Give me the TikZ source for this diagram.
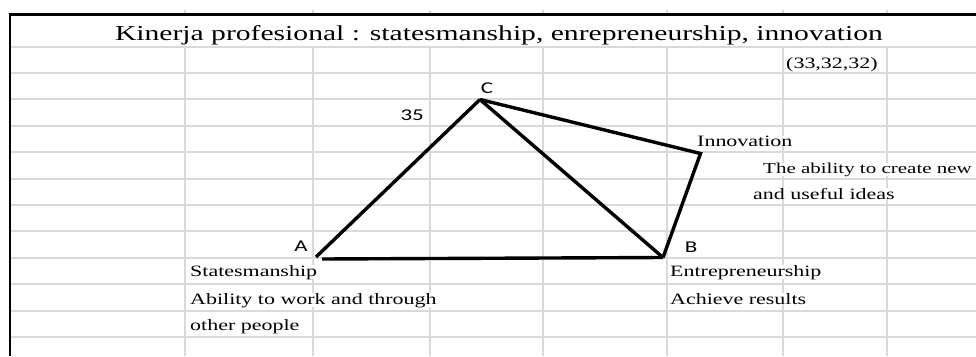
\documentclass[tikz,border=0pt]{standalone}
\usepackage{fontspec}
\setmainfont{Liberation Serif}[FakeStretch=1.39]
\newfontfamily\lblfont{Carlito}[FakeStretch=1.39]
\begin{document}
\begin{tikzpicture}[x=1pt,y=-1pt,
  gridline/.style={draw=black!15,line width=1.3pt},
  border/.style={draw=black,line width=2.6pt},
  edge/.style={draw=black,line width=3.4pt,line join=miter},
  bodytext/.style={font=\fontsize{15.8}{18}\selectfont,anchor=base west,inner xsep=1pt,inner ysep=0pt,fill=white},
  titletext/.style={font=\fontsize{21.3}{24}\selectfont,anchor=base,inner sep=0pt},
  vlabel/.style={font=\lblfont\fontsize{16.5}{18}\selectfont,inner sep=0pt}]
\useasboundingbox (0,0) rectangle (976,356);
\fill[white] (0,0) rectangle (976,356);
% grid: horizontal lines
\foreach \yy in {47,73,99,126,152,179,205,231,258,284,311,337}
  \draw[gridline] (10,\yy) -- (976,\yy);
% grid: vertical lines (not in merged title row)
\foreach \xx in {185,313,430,543,667,783,887}{
  \draw[gridline] (\xx,47) -- (\xx,356);
  \draw[gridline] (\xx,10) -- (\xx,14);
}
% borders
\draw[border] (8.7,14.5) -- (976,14.5);
\draw[border] (10,13.2) -- (10,356);
% texts
\node[titletext] (title) at (499,40) {Kinerja profesional : statesmanship, enrepreneurship, innovation};
\node[bodytext] (score) at (785,68) {(33,32,32)};
\node[bodytext] (innov) at (696,146) {Innovation};
\node[bodytext,font=\fontsize{15.1}{18}\selectfont] (innovd1) at (762,173) {The ability to create new};
\node[bodytext] (innovd2) at (752,199) {and useful ideas};
\node[bodytext] (states) at (189,276) {Statesmanship};
\node[bodytext] (statesd1) at (189,304) {Ability to work and through};
\node[bodytext] (statesd2) at (189,330) {other people};
\node[bodytext] (entre) at (669,276) {Entrepreneurship};
\node[bodytext] (entred) at (669,304) {Achieve results};
\node[vlabel,anchor=base] (lc) at (487,93) {C};
\node[vlabel,anchor=base] (la) at (301,251) {A};
\node[vlabel,anchor=base] (lb) at (691,252) {B};
\node[vlabel,anchor=base east] (l35) at (424,120) {35};
% triangle
\coordinate (C) at (480,99.5);
\coordinate (A) at (316,257);
\coordinate (A2) at (322,259);
\coordinate (B) at (663,257.5);
\coordinate (I) at (700.5,153.5);
\draw[edge] (A) -- (C);
\draw[edge] (C) -- (B);
\draw[edge] (C) -- (I) -- (B);
\draw[edge] (A2) -- (B);
\end{tikzpicture}
\end{document}
